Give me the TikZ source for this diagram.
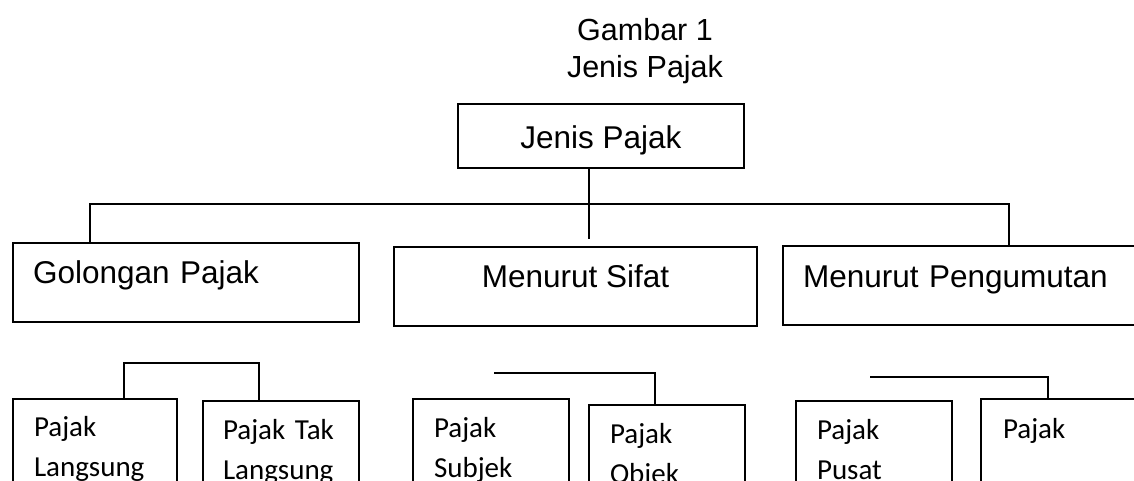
\documentclass[tikz,border=0pt]{standalone}
\usepackage{fontspec}
\setmainfont{Liberation Sans}
\newfontfamily\calibri{Carlito}
\tikzstyle{box}=[draw,line width=2pt,anchor=north west,inner ysep=0pt,font=\fontsize{31.5}{38}\selectfont]
\tikzstyle{link}=[line width=2pt]

\begin{document}
\begin{tikzpicture}[x=1pt,y=-1pt]
    \tikzstyle{midbox}=[box,inner xsep=0pt]
    \tikzstyle{sidebox}=[box,inner xsep=20pt,align=left]
    \tikzstyle{subbox}=[box,inner xsep=21pt,align=left,text width=114pt,text depth=70pt,font=\calibri\fontsize{29}{40}\selectfont]
    \useasboundingbox (0,0) rectangle (1134,480);
    \clip (0,0) rectangle (1134,480);
    % judul
    \node[align=center,anchor=base,inner sep=0pt,font=\fontsize{30.5}{37}\selectfont] (gambar) at (645,77) {Gambar 1\\Jenis Pajak};
    % tingkat atas
    \node[midbox,minimum width=286pt,text height=44pt,text depth=20pt] (jenis) at (457,103) {Jenis Pajak};
    \node[sidebox,text width=306pt,text height=40pt,text depth=39pt] (golongan) at (12,242) {Golongan Pajak};
    \node[midbox,minimum width=363pt,text height=40pt,text depth=39pt] (sifat) at (393,246) {Menurut Sifat};
    \node[sidebox,text width=330pt,text height=41pt,text depth=38pt] (pengumutan) at (782,245) {Menurut Pengumutan};
    % tingkat bawah
    \node[subbox,text width=122pt,text height=37pt] (langsung) at (12,398) {Pajak\\Langsung};
    \node[subbox,inner xsep=20pt,text width=116pt,text height=38pt] (taklangsung) at (202,400) {Pajak Tak\\Langsung};
    \node[subbox,text height=38pt] (subjek) at (412,398) {Pajak\\Subjek};
    \node[subbox,text height=38pt] (objek) at (588,404) {Pajak\\Objek};
    \node[subbox,text height=38pt] (pusat) at (795,400) {Pajak\\Pusat};
    \node[subbox,inner xsep=22pt,text width=160pt,text height=39pt] (pajakkanan) at (980,398) {Pajak};
    % garis
    \coordinate (J0) at (589,204);
    \coordinate (H1) at (90,204);
    \coordinate (H2) at (1009,204);
    \draw[link] (jenis.south -| J0) -- (J0);
    \draw[link] (golongan.north -| H1) -- (H1) -- (H2) -- (pengumutan.north -| H2);
    \draw[link,shorten >=7pt] (J0) -- (sifat.north -| J0);
    \coordinate (G1) at (124,363);
    \coordinate (G2) at (259,363);
    \draw[link] (langsung.north -| G1) -- (G1) -- (G2) -- (taklangsung.north -| G2);
    \coordinate (S1) at (494,373);
    \coordinate (S2) at (655,373);
    \draw[link] (S1) -- (S2) -- (objek.north -| S2);
    \coordinate (P1) at (870,377);
    \coordinate (P2) at (1048,377);
    \draw[link] (P1) -- (P2) -- (pajakkanan.north -| P2);
\end{tikzpicture}
\end{document}
